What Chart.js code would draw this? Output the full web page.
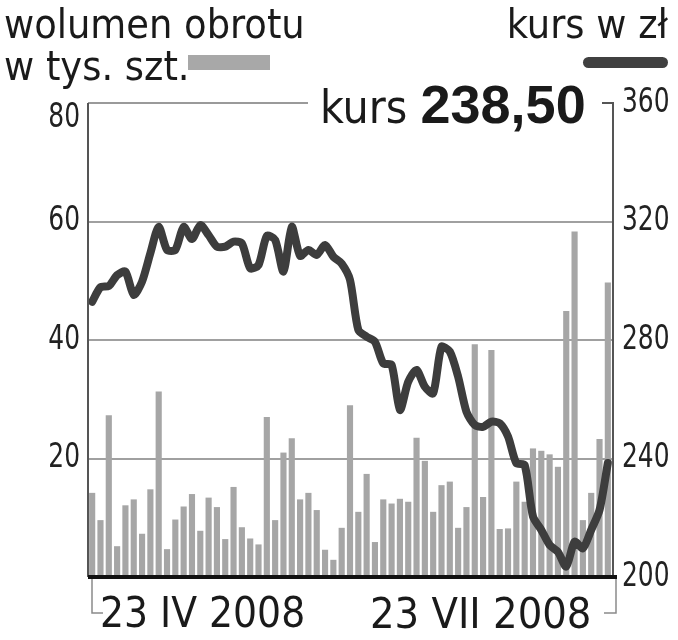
<!DOCTYPE html>
<html>
<head>
<meta charset="utf-8">
<script src="https://cdn.jsdelivr.net/npm/chart.js@4"></script>
<style>
  body { margin:0; background:#fff; }
  #wrap { position:relative; width:678px; height:640px; overflow:hidden; }
  canvas { position:absolute; left:0; top:0; }
  .t { position:absolute; color:#1a1a1a; font-family:"Liberation Sans Narrow","DejaVu Sans Condensed","Liberation Sans",sans-serif; white-space:nowrap; line-height:1; }
</style>
</head>
<body>
<div id="wrap">
  <canvas id="c" width="678" height="640"></canvas>
  <div class="t" style="left:4px;top:4px;font-size:41px;">wolumen obrotu</div>
  <div class="t" style="left:4px;top:46px;font-size:41px;">w tys. szt.</div>
  <div style="position:absolute;left:188px;top:55px;width:82px;height:15px;background:#a8a8a8;"></div>
  <div class="t" style="right:10px;top:4px;font-size:41px;">kurs w zł</div>
  <div style="position:absolute;left:583px;top:57px;width:85px;height:11px;border-radius:6px;background:#404040;"></div>
  <div class="t" style="left:320px;top:77px;font-size:46px;">kurs <b style="font-family:'Liberation Sans',sans-serif;font-size:54px;">238,50</b></div>
  <div class="t" style="left:100px;top:592px;font-size:42px;">23 IV 2008</div>
  <div class="t" style="left:370px;top:592px;font-size:43px;">23 VII 2008</div>
</div>
<script>
// wolumen w tys. szt. (lewa oś)
const wolumen = [14.2, 9.6, 27.3, 5.2, 12.1, 13.1, 7.3, 14.8, 31.3, 4.7,
  9.7, 11.9, 14.0, 7.8, 13.4, 11.8, 6.4, 15.2, 8.4, 6.5,
  5.5, 27.0, 9.6, 21.0, 23.4, 13.1, 14.2, 11.3, 4.6, 2.9,
  8.3, 29.0, 11.0, 17.4, 5.9, 13.1, 12.4, 13.2, 12.7, 23.5,
  19.6, 11.0, 15.5, 16.1, 8.3, 11.8, 39.3, 13.5, 38.3, 8.1,
  8.2, 16.1, 12.7, 21.7, 21.3, 20.7, 18.6, 44.9, 58.3, 9.6,
  14.2, 23.3, 49.7];

// kurs w zł (prawa oś)
const kurs = [292.9, 297.8, 298.2, 301.9, 303.1, 295.2, 299.7, 309.3, 318.2, 310.4,
  310.4, 318.2, 314.1, 318.8, 315.4, 311.5, 311.5, 313.2, 312.6, 304.2,
  305.3, 315.1, 313.8, 303.1, 318.2, 308.4, 310.4, 308.7, 312.1, 308.1,
  305.8, 300.3, 283.4, 281.1, 279.4, 272.1, 271.6, 256.4, 265.9, 269.9,
  264.2, 262.0, 277.7, 276.1, 267.6, 255.8, 251.3, 250.7, 252.4, 251.9,
  247.4, 238.4, 237.8, 220.4, 215.9, 210.8, 208.5, 203.5, 211.9, 209.7,
  215.9, 222.6, 238.5];

const sesje = kurs.map((_, i) => String(i + 1));
const ticksLewa = [20, 40, 60, 80];
const ticksPrawa = [200, 240, 280, 320, 360];

const fontNarrow = '"Liberation Sans Narrow","DejaVu Sans Condensed","Liberation Sans",sans-serif';

// tekst zwężony w poziomie
function narrowText(ctx, txt, x, y, align) {
  ctx.save();
  ctx.translate(x, y);
  ctx.scale(0.84, 1);
  ctx.textAlign = align;
  ctx.fillText(txt, 0, 0);
  ctx.restore();
}

const frame = {
  id: 'frame',
  afterDraw(chart) {
    const ctx = chart.ctx;
    const a = chart.chartArea;
    const y = chart.scales.y;
    const y1 = chart.scales.y1;
    ctx.save();
    // top gridline (only partial)
    ctx.strokeStyle = '#9a9a9a';
    ctx.lineWidth = 2;
    ctx.beginPath();
    ctx.moveTo(a.left, a.top); ctx.lineTo(308, a.top);
    ctx.stroke();
    // axes
    ctx.strokeStyle = '#555';
    ctx.beginPath();
    ctx.moveTo(a.left, a.top); ctx.lineTo(a.left, a.bottom);
    ctx.moveTo(a.right - 10, a.top); ctx.lineTo(a.right + 1, a.top); ctx.lineTo(a.right + 1, a.bottom);
    ctx.stroke();
    // brackets under the axis
    ctx.strokeStyle = '#8a8a8a';
    ctx.lineWidth = 1.5;
    ctx.beginPath();
    ctx.moveTo(a.left + 4, a.bottom); ctx.lineTo(a.left + 4, 613); ctx.lineTo(a.left + 15, 613);
    ctx.moveTo(a.right + 4, a.bottom); ctx.lineTo(a.right + 4, 613); ctx.lineTo(a.right - 8, 613);
    ctx.stroke();
    // baseline
    ctx.strokeStyle = '#111';
    ctx.lineWidth = 4;
    ctx.beginPath();
    ctx.moveTo(a.left, a.bottom); ctx.lineTo(a.right + 5, a.bottom);
    ctx.stroke();
    // tick labels
    ctx.fillStyle = '#222';
    ctx.font = '33px ' + fontNarrow;
    ctx.textBaseline = 'middle';
    ticksLewa.forEach(v => {
      const py = y.getPixelForValue(v) + (v === 80 ? 15 : 0);
      narrowText(ctx, String(v), a.left - 8, py, 'right');
    });
    ticksPrawa.forEach(v => {
      narrowText(ctx, String(v), a.right + 10, y1.getPixelForValue(v), 'left');
    });
    ctx.restore();
  }
};

new Chart(document.getElementById('c'), {
  type: 'bar',
  data: {
    labels: sesje,
    datasets: [{
      type: 'line',
      data: kurs,
      yAxisID: 'y1',
      borderColor: '#3d3d3d',
      borderWidth: 8,
      pointRadius: 0,
      tension: 0.25,
      borderJoinStyle: 'round',
      borderCapStyle: 'round',
      order: 0
    }, {
      type: 'bar',
      data: wolumen,
      yAxisID: 'y',
      backgroundColor: '#a6a6a6',
      barPercentage: 0.74,
      categoryPercentage: 1,
      order: 1
    }]
  },
  options: {
    responsive: false,
    animation: false,
    layout: { padding: { top: 103, bottom: 63, left: 0, right: 0 } },
    plugins: { legend: { display: false }, tooltip: { enabled: false } },
    scales: {
      x: { display: false },
      y: {
        position: 'left',
        min: 0, max: 80,
        ticks: { display: false, stepSize: 20 },
        grid: {
          drawTicks: false,
          lineWidth: 2,
          color: c => (c.tick.value === 0 || c.tick.value === 80) ? 'rgba(0,0,0,0)' : '#a0a0a0'
        },
        border: { display: false },
        afterFit: s => { s.width = 88; }
      },
      y1: {
        position: 'right',
        min: 200, max: 360,
        ticks: { display: false, stepSize: 40 },
        grid: { display: false },
        border: { display: false },
        afterFit: s => { s.width = 66; }
      }
    }
  },
  plugins: [frame]
});
</script>
</body>
</html>
